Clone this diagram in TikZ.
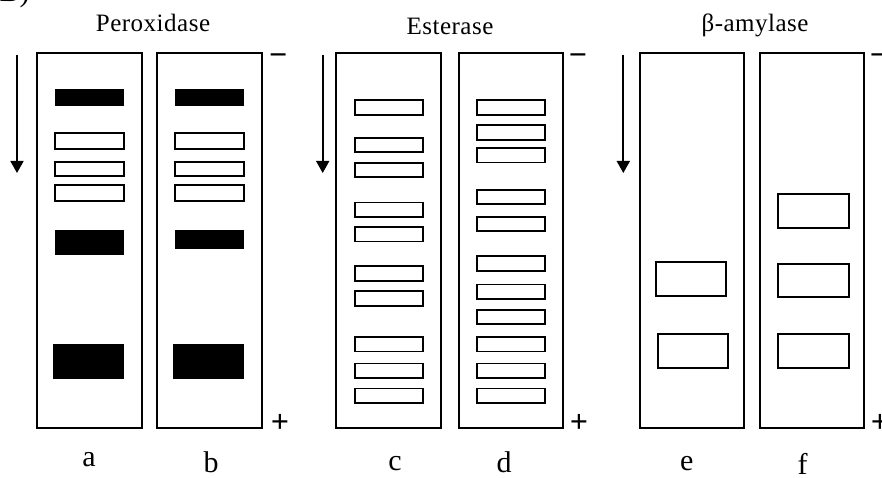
\documentclass[tikz,border=0pt]{standalone}
\usepackage{fontspec}
\setmainfont{Liberation Serif}
\usetikzlibrary{arrows.meta}
\begin{document}
\begin{tikzpicture}[x=1pt,y=-1pt,
  frame/.style={draw=black,line width=1.8pt},
  wband/.style={draw=black,line width=1.8pt,fill=white},
  bband/.style={fill=black},
  title/.style={anchor=base,font=\fontsize{25}{27}\selectfont\addfontfeatures{LetterSpace=2}},
  lab/.style={anchor=base,font=\fontsize{30}{32}\selectfont},
  sign/.style={font=\fontsize{32}{34}\selectfont\bfseries,inner sep=0pt,anchor=base},
  migr/.style={line width=1.8pt,-{Triangle[length=12pt,width=13pt]}}]
\useasboundingbox (0,0) rectangle (882,478);
\clip (0,0) rectangle (882,478);
\fill[white] (0,0) rectangle (882,478);
% partially visible panel tag
\node[lab,anchor=base west] (tag) at (-4,2) {B)};
% titles
\node[title] (tper) at (153,31.7) {Peroxidase};
\node[title] (test) at (450,35) {Esterase};
\node[title] (tamy) at (755,31.7) {β-amylase};
% migration arrows
\coordinate (a1s) at (17,55); \coordinate (a1e) at (17,173);
\coordinate (a2s) at (322.7,55); \coordinate (a2e) at (322.7,173);
\coordinate (a3s) at (623.3,55); \coordinate (a3e) at (623.3,173);
\draw[migr] (a1s) -- (a1e);
\draw[migr] (a2s) -- (a2e);
\draw[migr] (a3s) -- (a3e);
% frames
\draw[frame] (36.7,52.7) rectangle (141.7,427.7);
\draw[frame] (157.3,52.7) rectangle (261.7,427.7);
\draw[frame] (336,52.7) rectangle (441.3,427.7);
\draw[frame] (458.7,52.7) rectangle (563.3,427.7);
\draw[frame] (640,52.7) rectangle (744.3,427.7);
\draw[frame] (760,52.7) rectangle (864.3,427.7);
% signs
\node[sign] (m1) at (278.3,66) {−};
\node[sign] (p1) at (280,432) {+};
\node[sign] (m2) at (578,66) {−};
\node[sign] (p2) at (579,432) {+};
\node[sign] (m3) at (879,66) {−};
\node[sign] (p3) at (880,432) {+};
% lane a
\fill[bband] (55,89.3) rectangle (124,106);
\draw[wband] (55,133.3) rectangle (124,149.3);
\draw[wband] (55,161.7) rectangle (124,175.7);
\draw[wband] (55,185) rectangle (124,200.7);
\fill[bband] (55,230.3) rectangle (124,255);
\fill[bband] (52.7,344) rectangle (124,379.3);
% lane b
\fill[bband] (175,89.3) rectangle (244,106);
\draw[wband] (175,133.3) rectangle (244,149.3);
\draw[wband] (175,161.7) rectangle (244,175.7);
\draw[wband] (175,185) rectangle (244,200.7);
\fill[bband] (175,230.3) rectangle (244,248.7);
\fill[bband] (172.7,344) rectangle (244,379.3);
% lane c
\foreach \yc in {107.7,145,170,209.8,234.2,273.5,298.5,344.2,370.8,395.8}
  \draw[wband] (355,\yc-7.3) rectangle (422.7,\yc+7.3);
% lane d
\foreach \yc in {107.7,132.5,155.2,197,224,263.3,291.8,317,344.2,370.8,395.8}
  \draw[wband] (476.7,\yc-7.3) rectangle (545,\yc+7.3);
% lane e
\draw[wband] (656,261.7) rectangle (726,295.7);
\draw[wband] (658.3,334) rectangle (728.3,368.3);
% lane f
\draw[wband] (778.3,194) rectangle (848.7,227.7);
\draw[wband] (778.3,264.3) rectangle (848.7,297.3);
\draw[wband] (778.3,334) rectangle (848.7,368.3);
% lane labels
\node[lab] (la) at (89,466.5) {a};
\node[lab] (lb) at (211,472) {b};
\node[lab] (lc) at (395,470) {c};
\node[lab] (ld) at (504,472) {d};
\node[lab] (le) at (686.7,470.5) {e};
\node[lab] (lf) at (802.7,474) {f};
\end{tikzpicture}
\end{document}
